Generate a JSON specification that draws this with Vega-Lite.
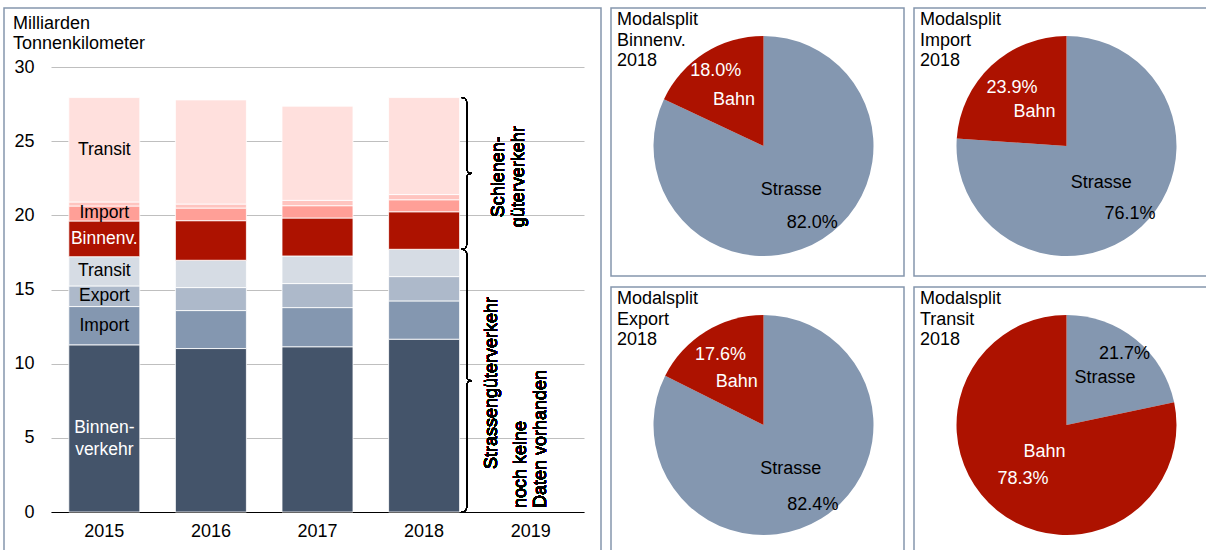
{
  "$schema": "https://vega.github.io/schema/vega-lite/v6.json",
  "padding": {"left": 3, "top": 7, "right": 0, "bottom": 0},
  "autosize": {"type": "pad"},
  "background": "white",
  "spacing": 8,
  "resolve": {"scale": {"color": "independent"}},
  "config": {
    "font": "Liberation Sans",
    "view": {"stroke": "#8596AD", "strokeWidth": 1.5},
    "title": {"fontSize": 18, "fontWeight": "normal", "color": "black", "anchor": "start", "frame": "group", "lineHeight": 20.5},
    "axis": {"labelFont": "Liberation Sans", "labelColor": "black", "labelFontSize": 18}
  },
  "datasets": {
    "bars": [
      {"year": "2015", "seg": "Strasse Binnenverkehr", "k": 1, "v": 11.27, "label": "Binnen-\nverkehr"},
      {"year": "2015", "seg": "Strasse Import", "k": 2, "v": 2.58, "label": "Import"},
      {"year": "2015", "seg": "Strasse Export", "k": 3, "v": 1.39, "label": "Export"},
      {"year": "2015", "seg": "Strasse Transit", "k": 4, "v": 1.97, "label": "Transit"},
      {"year": "2015", "seg": "Schiene Binnenv.", "k": 5, "v": 2.41, "label": "Binnenv."},
      {"year": "2015", "seg": "Schiene Import", "k": 6, "v": 1.01, "label": "Import"},
      {"year": "2015", "seg": "Schiene Export", "k": 7, "v": 0.27, "label": ""},
      {"year": "2015", "seg": "Schiene Transit", "k": 8, "v": 7.04, "label": "Transit"},
      {"year": "2016", "seg": "Strasse Binnenverkehr", "k": 1, "v": 11.02, "label": ""},
      {"year": "2016", "seg": "Strasse Import", "k": 2, "v": 2.56, "label": ""},
      {"year": "2016", "seg": "Strasse Export", "k": 3, "v": 1.55, "label": ""},
      {"year": "2016", "seg": "Strasse Transit", "k": 4, "v": 1.84, "label": ""},
      {"year": "2016", "seg": "Schiene Binnenv.", "k": 5, "v": 2.67, "label": ""},
      {"year": "2016", "seg": "Schiene Import", "k": 6, "v": 0.85, "label": ""},
      {"year": "2016", "seg": "Schiene Export", "k": 7, "v": 0.27, "label": ""},
      {"year": "2016", "seg": "Schiene Transit", "k": 8, "v": 7.02, "label": ""},
      {"year": "2017", "seg": "Strasse Binnenverkehr", "k": 1, "v": 11.14, "label": ""},
      {"year": "2017", "seg": "Strasse Import", "k": 2, "v": 2.64, "label": ""},
      {"year": "2017", "seg": "Strasse Export", "k": 3, "v": 1.62, "label": ""},
      {"year": "2017", "seg": "Strasse Transit", "k": 4, "v": 1.86, "label": ""},
      {"year": "2017", "seg": "Schiene Binnenv.", "k": 5, "v": 2.56, "label": ""},
      {"year": "2017", "seg": "Schiene Import", "k": 6, "v": 0.83, "label": ""},
      {"year": "2017", "seg": "Schiene Export", "k": 7, "v": 0.36, "label": ""},
      {"year": "2017", "seg": "Schiene Transit", "k": 8, "v": 6.35, "label": ""},
      {"year": "2018", "seg": "Strasse Binnenverkehr", "k": 1, "v": 11.65, "label": ""},
      {"year": "2018", "seg": "Strasse Import", "k": 2, "v": 2.58, "label": ""},
      {"year": "2018", "seg": "Strasse Export", "k": 3, "v": 1.64, "label": ""},
      {"year": "2018", "seg": "Strasse Transit", "k": 4, "v": 1.84, "label": ""},
      {"year": "2018", "seg": "Schiene Binnenv.", "k": 5, "v": 2.53, "label": ""},
      {"year": "2018", "seg": "Schiene Import", "k": 6, "v": 0.81, "label": ""},
      {"year": "2018", "seg": "Schiene Export", "k": 7, "v": 0.35, "label": ""},
      {"year": "2018", "seg": "Schiene Transit", "k": 8, "v": 6.54, "label": ""}
    ],
    "pies": [
      {"panel": "Binnenv.", "mode": "Strasse", "share": 0.820},
      {"panel": "Binnenv.", "mode": "Bahn", "share": 0.180},
      {"panel": "Import", "mode": "Strasse", "share": 0.761},
      {"panel": "Import", "mode": "Bahn", "share": 0.239},
      {"panel": "Export", "mode": "Strasse", "share": 0.824},
      {"panel": "Export", "mode": "Bahn", "share": 0.176},
      {"panel": "Transit", "mode": "Strasse", "share": 0.217},
      {"panel": "Transit", "mode": "Bahn", "share": 0.783}
    ]
  },
  "hconcat": [
    {
      "width": 597,
      "height": 560,
      "title": {"text": ["Milliarden", "Tonnenkilometer"], "offset": -45, "dx": 9},
      "data": {"name": "bars"},
      "layer": [
        {
          "mark": {"type": "bar", "stroke": "white", "strokeWidth": 0.8},
          "encoding": {
            "x": {
              "field": "year", "type": "nominal",
              "scale": {"domain": ["2015", "2016", "2017", "2018", "2019"], "range": [47, 580], "paddingInner": 0.334, "paddingOuter": 0.167},
              "axis": {"title": null, "labelAngle": 0, "domain": true, "domainColor": "black", "domainWidth": 1, "ticks": false, "tickSize": 0, "labelPadding": 10, "offset": -56, "grid": false}
            },
            "y": {
              "field": "v", "type": "quantitative", "stack": "zero",
              "scale": {"domain": [0, 30], "range": [504, 59], "nice": false, "zero": true},
              "axis": {"title": null, "values": [0, 5, 10, 15, 20, 25, 30], "grid": true, "gridColor": "#BFBFBF", "gridWidth": 1, "domain": false, "ticks": false, "tickSize": 0, "labelPadding": 17, "offset": -47}
            },
            "color": {
              "field": "seg", "type": "nominal", "legend": null,
              "scale": {
                "domain": ["Strasse Binnenverkehr", "Strasse Import", "Strasse Export", "Strasse Transit", "Schiene Binnenv.", "Schiene Import", "Schiene Export", "Schiene Transit"],
                "range": ["#44546A", "#8497B0", "#ADB9CA", "#D6DCE4", "#AD1200", "#FF9F97", "#FFC4BF", "#FFE0DD"]
              }
            },
            "order": {"field": "k", "type": "quantitative"}
          }
        },
        {
          "mark": {"type": "text", "fontSize": 17.5, "lineBreak": "\n", "baseline": "middle", "align": "center", "lineHeight": 22},
          "encoding": {
            "x": {"field": "year", "type": "nominal"},
            "y": {"field": "v", "type": "quantitative", "stack": "zero", "bandPosition": 0.5},
            "detail": {"field": "seg", "type": "nominal"},
            "order": {"field": "k", "type": "quantitative"},
            "text": {"field": "label", "type": "nominal"},
            "color": {"condition": {"test": "datum.seg === 'Schiene Binnenv.' || datum.seg === 'Strasse Binnenverkehr'", "value": "white"}, "value": "black"}
          }
        },
        {
          "mark": {"type": "point", "filled": false, "stroke": "black", "strokeWidth": 1, "opacity": 1, "size": 23000,
            "shape": "M -0.066 -1 Q 0 -1 0 -0.934 L 0 -0.066 Q 0 0 0.066 0 Q 0 0 0 0.066 L 0 0.934 Q 0 1 -0.066 1"},
          "encoding": {
            "x": {"datum": "2018", "bandPosition": 1.1},
            "y": {"datum": 22.825}
          }
        },
        {
          "mark": {"type": "point", "filled": false, "stroke": "black", "strokeWidth": 1, "opacity": 1, "size": 68960,
            "shape": "M -0.038 -1 Q 0 -1 0 -0.962 L 0 -0.038 Q 0 0 0.038 0 Q 0 0 0 0.038 L 0 0.962 Q 0 1 -0.038 1"},
          "encoding": {
            "x": {"datum": "2018", "bandPosition": 1.1},
            "y": {"datum": 8.855}
          }
        },
        {
          "mark": {"type": "text", "angle": 270, "fontSize": 18, "align": "center", "baseline": "middle", "lineBreak": "\n", "lineHeight": 20, "color": "black"},
          "encoding": {
            "x": {"datum": "2018", "bandPosition": 1.55},
            "y": {"datum": 22.6},
            "text": {"value": "Schienen-\ngüterverkehr"}
          }
        },
        {
          "mark": {"type": "text", "angle": 270, "fontSize": 18, "align": "center", "baseline": "middle", "color": "black"},
          "encoding": {
            "x": {"datum": "2018", "bandPosition": 1.46},
            "y": {"datum": 8.7},
            "text": {"value": "Strassengüterverkehr"}
          }
        },
        {
          "mark": {"type": "text", "angle": 270, "fontSize": 18, "align": "left", "baseline": "middle", "lineBreak": "\n", "lineHeight": 20, "dx": 4, "color": "black"},
          "encoding": {
            "x": {"datum": "2019", "bandPosition": 0.36},
            "y": {"datum": 0},
            "text": {"value": "noch keine\nDaten vorhanden"}
          }
        }
      ]
    },
    {
      "spacing": 9,
      "vconcat": [
        {
          "spacing": 8,
          "hconcat": [
            {
              "width": 293, "height": 268,
              "view": {"stroke": "#8596AD", "strokeWidth": 1.5},
              "title": {"text": ["Modalsplit", "Binnenv.", "2018"], "offset": -62, "dx": 6},
              "data": {"name": "pies"},
              "transform": [{"filter": "datum.panel === 'Binnenv.'"}],
              "encoding": {
                "theta": {"field": "share", "type": "quantitative", "stack": true},
                "order": {"field": "mode", "type": "nominal", "sort": "descending"},
                "detail": {"field": "mode", "type": "nominal"}
              },
              "layer": [
                {"mark": {"type": "arc", "outerRadius": 110, "xOffset": 6, "yOffset": 4},
                 "encoding": {"color": {"field": "mode", "type": "nominal", "legend": null, "scale": {"domain": ["Strasse", "Bahn"], "range": ["#8497B0", "#AD1200"]}}}},
                {"mark": {"type": "text", "radius": 91, "fontSize": 18, "xOffset": 6, "yOffset": 4, "color": "black"},
                 "encoding": {"text": {"field": "share", "type": "quantitative", "format": ".1%"},
                   "opacity": {"condition": {"test": "datum.mode === 'Strasse'", "value": 1}, "value": 0}}},
                {"mark": {"type": "text", "radius": 52, "fontSize": 18, "xOffset": 6, "yOffset": 4, "color": "black"},
                 "encoding": {"text": {"field": "mode", "type": "nominal"},
                   "opacity": {"condition": {"test": "datum.mode === 'Strasse'", "value": 1}, "value": 0}}},
                {"mark": {"type": "text", "radius": 89, "fontSize": 18, "xOffset": 6, "yOffset": 4, "color": "white"},
                 "encoding": {"text": {"field": "share", "type": "quantitative", "format": ".1%"},
                   "opacity": {"condition": {"test": "datum.mode === 'Bahn'", "value": 1}, "value": 0}}},
                {"mark": {"type": "text", "radius": 55, "fontSize": 18, "xOffset": 6, "yOffset": 4, "color": "white"},
                 "encoding": {"text": {"field": "mode", "type": "nominal"},
                   "opacity": {"condition": {"test": "datum.mode === 'Bahn'", "value": 1}, "value": 0}}}
              ]
            },
            {
              "width": 293, "height": 268,
              "view": {"stroke": "#8596AD", "strokeWidth": 1.5},
              "title": {"text": ["Modalsplit", "Import", "2018"], "offset": -62, "dx": 6},
              "data": {"name": "pies"},
              "transform": [{"filter": "datum.panel === 'Import'"}],
              "encoding": {
                "theta": {"field": "share", "type": "quantitative", "stack": true},
                "order": {"field": "mode", "type": "nominal", "sort": "descending"},
                "detail": {"field": "mode", "type": "nominal"}
              },
              "layer": [
                {"mark": {"type": "arc", "outerRadius": 110, "xOffset": 6, "yOffset": 4},
                 "encoding": {"color": {"field": "mode", "type": "nominal", "legend": null, "scale": {"domain": ["Strasse", "Bahn"], "range": ["#8497B0", "#AD1200"]}}}},
                {"mark": {"type": "text", "radius": 93, "fontSize": 18, "xOffset": 6, "yOffset": 4, "color": "black"},
                 "encoding": {"text": {"field": "share", "type": "quantitative", "format": ".1%"},
                   "opacity": {"condition": {"test": "datum.mode === 'Strasse'", "value": 1}, "value": 0}}},
                {"mark": {"type": "text", "radius": 51, "fontSize": 18, "xOffset": 6, "yOffset": 4, "color": "black"},
                 "encoding": {"text": {"field": "mode", "type": "nominal"},
                   "opacity": {"condition": {"test": "datum.mode === 'Strasse'", "value": 1}, "value": 0}}},
                {"mark": {"type": "text", "radius": 80, "fontSize": 18, "xOffset": 6, "yOffset": 4, "color": "white"},
                 "encoding": {"text": {"field": "share", "type": "quantitative", "format": ".1%"},
                   "opacity": {"condition": {"test": "datum.mode === 'Bahn'", "value": 1}, "value": 0}}},
                {"mark": {"type": "text", "radius": 47, "fontSize": 18, "xOffset": 6, "yOffset": 4, "color": "white"},
                 "encoding": {"text": {"field": "mode", "type": "nominal"},
                   "opacity": {"condition": {"test": "datum.mode === 'Bahn'", "value": 1}, "value": 0}}}
              ]
            }
          ]
        },
        {
          "spacing": 8,
          "hconcat": [
            {
              "width": 293, "height": 268,
              "view": {"stroke": "#8596AD", "strokeWidth": 1.5},
              "title": {"text": ["Modalsplit", "Export", "2018"], "offset": -62, "dx": 6},
              "data": {"name": "pies"},
              "transform": [{"filter": "datum.panel === 'Export'"}],
              "encoding": {
                "theta": {"field": "share", "type": "quantitative", "stack": true},
                "order": {"field": "mode", "type": "nominal", "sort": "descending"},
                "detail": {"field": "mode", "type": "nominal"}
              },
              "layer": [
                {"mark": {"type": "arc", "outerRadius": 110, "xOffset": 6, "yOffset": 4},
                 "encoding": {"color": {"field": "mode", "type": "nominal", "legend": null, "scale": {"domain": ["Strasse", "Bahn"], "range": ["#8497B0", "#AD1200"]}}}},
                {"mark": {"type": "text", "radius": 94, "fontSize": 18, "xOffset": 6, "yOffset": 4, "color": "black"},
                 "encoding": {"text": {"field": "share", "type": "quantitative", "format": ".1%"},
                   "opacity": {"condition": {"test": "datum.mode === 'Strasse'", "value": 1}, "value": 0}}},
                {"mark": {"type": "text", "radius": 52, "fontSize": 18, "xOffset": 6, "yOffset": 4, "color": "black"},
                 "encoding": {"text": {"field": "mode", "type": "nominal"},
                   "opacity": {"condition": {"test": "datum.mode === 'Strasse'", "value": 1}, "value": 0}}},
                {"mark": {"type": "text", "radius": 82, "fontSize": 18, "xOffset": 6, "yOffset": 4, "color": "white"},
                 "encoding": {"text": {"field": "share", "type": "quantitative", "format": ".1%"},
                   "opacity": {"condition": {"test": "datum.mode === 'Bahn'", "value": 1}, "value": 0}}},
                {"mark": {"type": "text", "radius": 51, "fontSize": 18, "xOffset": 6, "yOffset": 4, "color": "white"},
                 "encoding": {"text": {"field": "mode", "type": "nominal"},
                   "opacity": {"condition": {"test": "datum.mode === 'Bahn'", "value": 1}, "value": 0}}}
              ]
            },
            {
              "width": 293, "height": 268,
              "view": {"stroke": "#8596AD", "strokeWidth": 1.5},
              "title": {"text": ["Modalsplit", "Transit", "2018"], "offset": -62, "dx": 6},
              "data": {"name": "pies"},
              "transform": [{"filter": "datum.panel === 'Transit'"}],
              "encoding": {
                "theta": {"field": "share", "type": "quantitative", "stack": true},
                "order": {"field": "mode", "type": "nominal", "sort": "descending"},
                "detail": {"field": "mode", "type": "nominal"}
              },
              "layer": [
                {"mark": {"type": "arc", "outerRadius": 110, "xOffset": 6, "yOffset": 4},
                 "encoding": {"color": {"field": "mode", "type": "nominal", "legend": null, "scale": {"domain": ["Strasse", "Bahn"], "range": ["#8497B0", "#AD1200"]}}}},
                {"mark": {"type": "text", "radius": 92, "fontSize": 18, "xOffset": 6, "yOffset": 4, "color": "black"},
                 "encoding": {"text": {"field": "share", "type": "quantitative", "format": ".1%"},
                   "opacity": {"condition": {"test": "datum.mode === 'Strasse'", "value": 1}, "value": 0}}},
                {"mark": {"type": "text", "radius": 61, "fontSize": 18, "xOffset": 6, "yOffset": 4, "color": "black"},
                 "encoding": {"text": {"field": "mode", "type": "nominal"},
                   "opacity": {"condition": {"test": "datum.mode === 'Strasse'", "value": 1}, "value": 0}}},
                {"mark": {"type": "text", "radius": 69, "fontSize": 18, "xOffset": 6, "yOffset": 4, "color": "white"},
                 "encoding": {"text": {"field": "share", "type": "quantitative", "format": ".1%"},
                   "opacity": {"condition": {"test": "datum.mode === 'Bahn'", "value": 1}, "value": 0}}},
                {"mark": {"type": "text", "radius": 35, "fontSize": 18, "xOffset": 6, "yOffset": 4, "color": "white"},
                 "encoding": {"text": {"field": "mode", "type": "nominal"},
                   "opacity": {"condition": {"test": "datum.mode === 'Bahn'", "value": 1}, "value": 0}}}
              ]
            }
          ]
        }
      ]
    }
  ]
}
